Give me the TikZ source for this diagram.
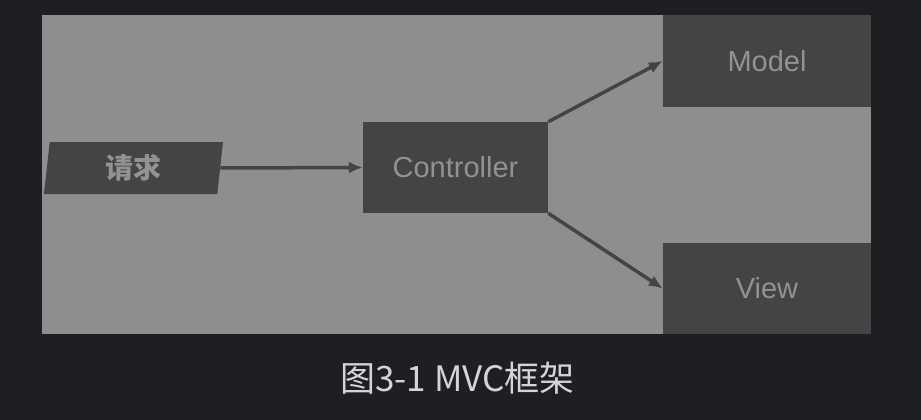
\documentclass[tikz,border=0pt]{standalone}
\usepackage{fontspec}
\setmainfont{Liberation Sans}
\newfontfamily\cjk{Noto Sans CJK SC}
\usetikzlibrary{arrows.meta,shapes.geometric}
\definecolor{bgdark}{HTML}{1E1F22}
\definecolor{panelgray}{HTML}{8E8E8E}
\definecolor{boxgray}{HTML}{444444}
\definecolor{boxtext}{HTML}{929292}
\definecolor{captext}{HTML}{D4D4D8}
\tikzset{
	block/.style={fill=boxgray, text=boxtext, inner sep=0pt, font=\fontsize{29}{29}\selectfont},
	flow/.style={draw=boxgray, line width=3.5pt, -{Latex[length=14pt,width=12pt]}}
}
\begin{document}
\begin{tikzpicture}[x=1pt, y=-1pt]
		\fill[bgdark] (0, 0) rectangle (921, 420);
		\useasboundingbox (0, 0) rectangle (921, 420);
		\fill[panelgray] (42, 15) rectangle (871, 334);

		\node[block, trapezium, trapezium left angle=78, trapezium right angle=102,
			trapezium stretches body, minimum width=179pt, minimum height=52pt,
			font=\cjk\bfseries\fontsize{28}{28}\selectfont] (req) at (133.5, 168) {请求};
		\node[block, minimum width=185pt, minimum height=91pt] (ctrl) at (455.5, 167.5) {Controller};
		\node[block, minimum width=208pt, minimum height=92pt] (model) at (767, 61) {Model};
		\node[block, minimum width=208pt, minimum height=91pt] (view) at (767, 288.5) {View};

		\draw[flow] (req.east) -- (ctrl.west);
		\draw[flow] (ctrl.north east) -- (model.west);
		\draw[flow] (ctrl.south east) -- (view.west);

		\node[text=captext, font=\cjk\fontsize{35}{35}\selectfont] (cap) at (457.5, 378) {图3-1 MVC框架};
	\end{tikzpicture}
\end{document}
